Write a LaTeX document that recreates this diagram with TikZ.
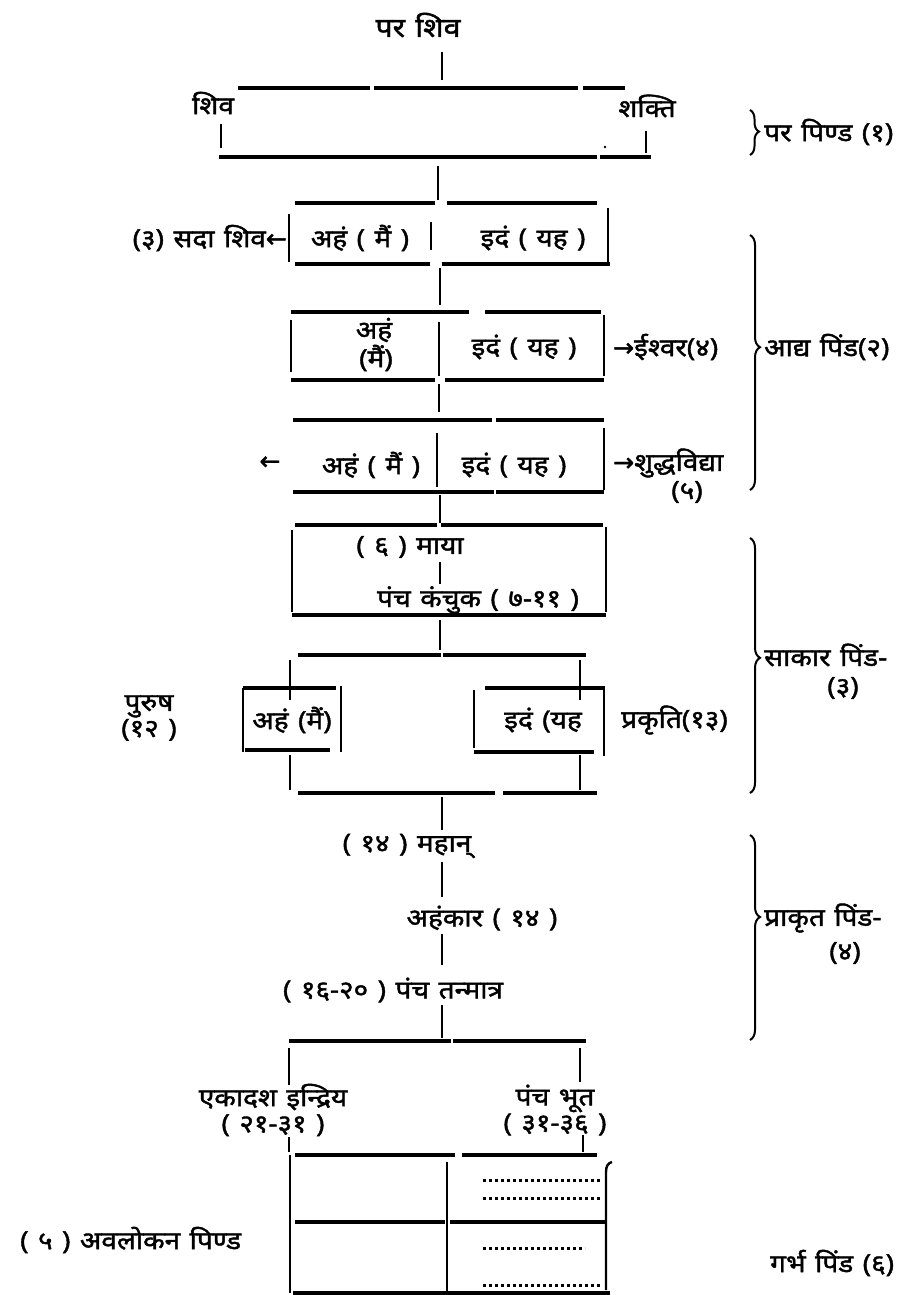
\documentclass[tikz,border=0pt]{standalone}
\usepackage{fontspec}
\setmainfont[Script=Devanagari, FakeStretch=1.12, WordSpace=1.3, FakeBold=1.6]{Noto Sans}
\newfontfamily\sym[FakeBold=1.6]{DejaVu Sans}
\usetikzlibrary{decorations.pathreplacing}
\tikzset{
  ln/.style={line width=3.2pt, line cap=butt},
  thin/.style={line width=2.4pt, line cap=butt},
  lab/.style={inner sep=0pt, font=\fontsize{25}{30}\selectfont},
  big/.style={inner sep=0pt, font=\fontsize{27}{32}\selectfont},
  br/.style={decorate, line width=2pt},
  dotsline/.style={line width=3pt, dash pattern=on 3pt off 3pt},
}
\begin{document}
\begin{tikzpicture}[x=1pt,y=-1pt]
\useasboundingbox (0,0) rectangle (915,1295);

% ---------- top: para shiva ----------
\node[big] (parashiva) at (418,25) {पर शिव};
\draw[thin] (442,52) -- (442,80);
\draw[ln] (238,88) -- (370,88) (374,88) -- (578,88) (583,88) -- (625,88);
\node[lab] (shiva) at (213,103) {शिव};
\node[lab] (shakti) at (647,106) {शक्ति};
\draw[thin] (221,124) -- (221,148);
\draw[thin] (646,131) -- (646,153);
\fill (605,147) circle (1.4pt);
\draw[ln] (219,157) -- (597,157) (600,157) -- (651,157);
\draw[thin] (438,166) -- (438,200);
\draw[br, decoration={brace, amplitude=9pt, aspect=0.48}] (750,110) -- (750,155);
\node[lab, anchor=west] (parpinda) at (764,132) {पर पिण्ड (१)};

% ---------- sada shiva ----------
\draw[ln] (295,203) -- (435,203) (447,203) -- (597,203);
\draw[thin] (289,214) -- (289,262);
\draw[thin] (608,208) -- (608,262);
\draw[thin] (431,222) -- (431,250);
\node[lab] (aham1) at (360,238) {अहं ( मैं )};
\node[lab] (idam1) at (533,238) {इदं ( यह )};
\node[lab, anchor=east] (sadashiva) at (287,238) {(३) सदा शिव{\sym ←}};
\draw[ln] (295,264) -- (430,264) (442,264) -- (610,264);
\draw[thin] (440,268) -- (440,305);

% ---------- ishvara ----------
\draw[ln] (291,312) -- (469,312) (485,312) -- (601,312);
\draw[thin] (291,320) -- (291,372);
\draw[thin] (604,315) -- (604,376);
\draw[thin] (439,322) -- (439,376);
\node[lab] (aham2) at (374,330) {अहं};
\node[lab] (mai2) at (376,358) {(मैं)};
\node[lab] (idam2) at (524,347) {इदं ( यह )};
\node[lab, anchor=west] (ishvara) at (613,347) {{\sym →}ईश्वर(४)};
\draw[ln] (291,380) -- (435,380) (445,380) -- (604,380);
\draw[thin] (439,384) -- (439,412);

% ---------- shuddha vidya ----------
\draw[ln] (293,420) -- (492,420) (496,420) -- (604,420);
\node[lab] (larrow) at (270,463) {{\sym ←}};
\node[lab] (aham3) at (371,465) {अहं ( मैं )};
\draw[thin] (437,433) -- (437,487);
\node[lab] (idam3) at (514,465) {इदं ( यह )};
\draw[thin] (604,428) -- (604,490);
\node[lab, anchor=west] (shuddha) at (613,463) {{\sym →}शुद्धविद्या};
\node[lab] (five) at (687,492) {(५)};
\draw[ln] (293,492) -- (494,492) (496,492) -- (604,492);
\draw[thin] (440,495) -- (440,523);
\draw[br, decoration={brace, amplitude=10pt, aspect=0.44}] (750,235) -- (750,490);
\node[lab, anchor=west] (adya) at (764,347) {आद्य पिंड(२)};

% ---------- maya ----------
\draw[ln] (295,525) -- (437,525) (441,525) -- (603,525);
\draw[thin] (292,530) -- (292,612);
\draw[thin] (606,527) -- (606,612);
\node[lab] (maya) at (410,547) {( ६ ) माया};
\draw[thin] (440,562) -- (440,584);
\node[lab] (kanchuka) at (478,600) {पंच कंचुक ( ७-११ )};
\draw[ln] (292,615) -- (606,615);
\draw[thin] (440,620) -- (440,650);
\draw[br, decoration={brace, amplitude=10pt, aspect=0.47}] (750,538) -- (750,793);
\node[lab, anchor=west] (sakara) at (764,655) {साकार पिंड-};
\node[lab] (sakaranum) at (843,688) {(३)};

% ---------- purusha / prakriti ----------
\draw[ln] (298,655) -- (441,655) (443,655) -- (586,655);
\draw[thin] (290,660) -- (290,700);
\draw[thin] (580,660) -- (580,700);
\draw[ln] (243,688) -- (336,688);
\draw[thin] (243,688) -- (243,752);
\draw[thin] (341,686) -- (341,752);
\node[lab] (aham4) at (292,720) {अहं (मैं)};
\draw[ln] (245,750) -- (330,750);
\draw[ln] (485,688) -- (604,688);
\draw[thin] (474,690) -- (474,748);
\draw[thin] (604,686) -- (604,756);
\node[lab] (idam4) at (543,720) {इदं (यह};
\draw[ln] (474,752) -- (594,752);
\node[lab, anchor=west] (prakriti) at (621,720) {प्रकृति(१३)};
\node[lab, align=center] (purusha) at (149,718) {पुरुष\\[-4pt](१२ )};
\draw[thin] (290,755) -- (290,790);
\draw[thin] (580,755) -- (580,790);
\draw[ln] (298,793) -- (495,793) (503,793) -- (597,793);
\draw[thin] (442,797) -- (442,830);

% ---------- prakrita ----------
\node[lab] (mahan) at (407,846) {( १४ ) महान्};
\draw[thin] (442,862) -- (442,897);
\node[lab] (ahankara) at (482,918) {अहंकार ( १४ )};
\draw[thin] (442,934) -- (442,965);
\node[lab] (tanmatra) at (393,990) {( १६-२० ) पंच तन्मात्र};
\draw[thin] (442,1005) -- (442,1038);
\draw[br, decoration={brace, amplitude=10pt, aspect=0.40}] (750,835) -- (750,1040);
\node[lab, anchor=west] (prakrita) at (764,918) {प्राकृत पिंड-};
\node[lab] (prakritanum) at (845,953) {(४)};

% ---------- bottom ----------
\draw[ln] (289,1041) -- (451,1041) (453,1041) -- (586,1041);
\draw[thin] (289,1048) -- (289,1085);
\draw[thin] (580,1048) -- (580,1082);
\node[lab, align=center] (indriya) at (273,1110) {एकादश इन्द्रिय\\[-4pt]( २१-३१ )};
\node[lab, align=center] (bhuta) at (555,1110) {पंच भूत\\[-4pt]( ३१-३६ )};
\draw[thin] (289,1137) -- (289,1152);
\draw[thin] (583,1135) -- (583,1152);
\draw[ln] (295,1155) -- (455,1155) (462,1155) -- (597,1155);
\draw[thin] (290,1155) -- (290,1293);
\draw[thin] (447,1162) -- (447,1293);
\draw[thin] (606,1290) -- (606,1172) .. controls (606,1166) and (608,1163) .. (612,1162);
\draw[ln] (295,1222) -- (445,1222) (450,1222) -- (605,1222);
\draw[dotsline] (483,1180) -- (600,1180);
\draw[dotsline] (483,1198) -- (600,1198);
\draw[dotsline] (483,1248) -- (585,1248);
\draw[dotsline] (483,1285) -- (600,1285);
\draw[ln] (293,1293) -- (610,1293);
\node[lab, anchor=west] (avalokana) at (20,1240) {( ५ ) अवलोकन पिण्ड};
\node[lab, anchor=west] (garbha) at (770,1263) {गर्भ पिंड (६)};
\end{tikzpicture}
\end{document}
